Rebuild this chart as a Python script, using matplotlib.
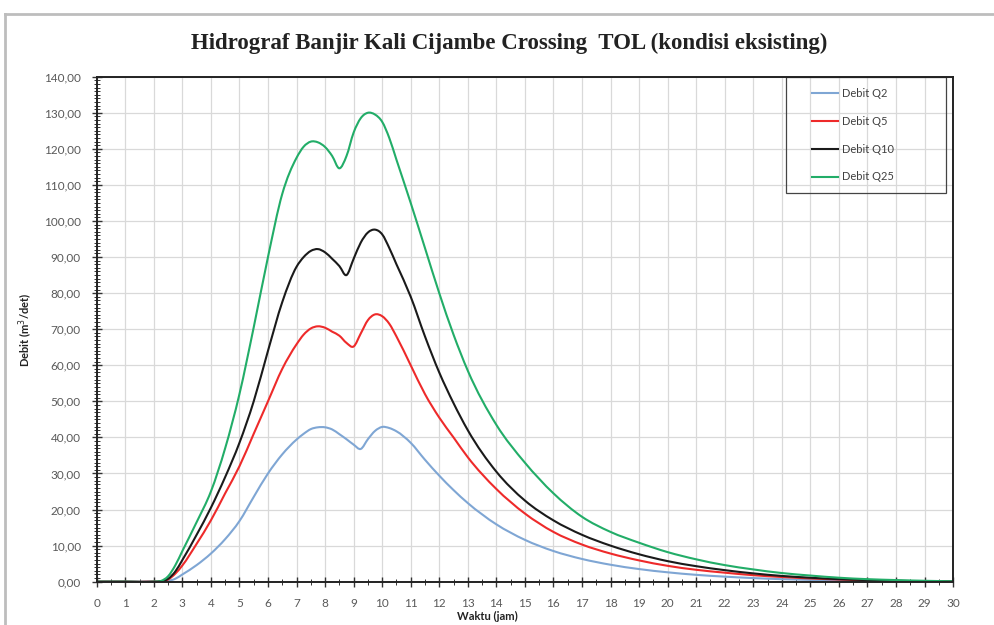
import matplotlib
matplotlib.use("Agg")
import matplotlib.pyplot as plt
import numpy as np
from matplotlib.ticker import MultipleLocator, FuncFormatter
from matplotlib.patches import Rectangle, PathPatch
from matplotlib.lines import Line2D
from matplotlib.path import Path

# waktu (jam)
waktu = [0, 1, 2, 2.25, 2.5, 2.75, 3, 3.5, 4, 4.5, 5, 5.5, 6, 6.5, 7,
         7.25, 7.5, 7.75, 8, 8.25, 8.5, 8.75, 9, 9.25, 9.5, 9.75, 10, 10.25, 10.5,
         11, 11.5, 12, 12.5, 13,
         14, 15, 16, 17, 18, 19, 20, 21, 22, 23, 24, 25, 26, 27, 28, 29, 30]

# debit (m3/det)
q2 = [0, 0, 0, 0, 0.2, 0.8, 2, 4.6, 7.8, 11.8, 16.8, 23.5, 30, 35.3, 39.4,
      41, 42.3, 42.8, 42.8, 42.2, 40.9, 39.5, 38, 36.8, 39.5, 41.8, 42.9, 42.6, 41.7,
      38.5, 33.8, 29.4, 25.4, 21.8,
      15.9, 11.6, 8.5, 6.3, 4.7, 3.5, 2.6, 1.9, 1.4, 1.0, 0.7, 0.5, 0.3, 0.2, 0.1, 0.05, 0]
q5 = [0, 0, 0, 0.1, 0.6, 2.2, 4.5, 10.5, 17, 24.5, 32, 41, 50, 59, 65.8,
      68.5, 70.2, 70.8, 70.4, 69.3, 68.2, 66.2, 65.2, 68.8, 72.5, 74.1, 73.6, 71.5, 68,
      60, 52, 45.5, 40, 34.5,
      25.7, 18.9, 13.8, 10.3, 7.8, 5.9, 4.4, 3.3, 2.5, 1.8, 1.3, 0.9, 0.6, 0.35, 0.2, 0.1, 0.05]
q10 = [0, 0, 0, 0.1, 0.8, 2.8, 6, 13, 20.5, 29, 38.5, 50, 64, 77.5, 87.3,
       90, 91.7, 92.2, 91.3, 89.5, 87.5, 85.0, 89.5, 94, 96.8, 97.6, 96.3, 92.5, 88,
       79, 68, 58, 49.5, 42,
       30.5, 22.5, 17, 13, 10, 7.6, 5.7, 4.3, 3.2, 2.3, 1.6, 1.1, 0.7, 0.45, 0.25, 0.12, 0.05]
q25 = [0, 0, 0, 0.2, 1.5, 4.5, 8.5, 16.5, 25, 37, 52, 70.5, 90, 107.5, 117.5,
       120.6, 122, 121.8, 120.5, 118, 114.6, 118, 124.5, 128.5, 130, 129.5, 127.5, 123, 117,
       105, 92.5, 80, 68.5, 58.5,
       43.5, 33, 24.5, 18, 13.8, 10.8, 8.2, 6.2, 4.6, 3.4, 2.4, 1.7, 1.1, 0.7, 0.45, 0.25, 0.1]

labels = ["Debit Q2", "Debit Q5", "Debit Q10", "Debit Q25"]
colors = ["#7FA6D4", "#EE2A2A", "#1A1A1A", "#22AD68"]


def garis_halus(x, y):
    # garis dihaluskan seperti "smoothed line" di Excel (Bezier lewat titik data)
    x = np.asarray(x, float)
    y = np.asarray(y, float)
    n = len(x)
    h = np.diff(x)
    d = np.diff(y) / h
    m = np.zeros(n)
    m[0] = d[0]
    m[-1] = d[-1]
    for i in range(1, n - 1):
        m[i] = (h[i - 1] * d[i] + h[i] * d[i - 1]) / (h[i - 1] + h[i])
    verts = [(x[0], y[0])]
    codes = [Path.MOVETO]
    for i in range(n - 1):
        dx = h[i] / 3.0
        verts += [(x[i] + dx, y[i] + m[i] * dx),
                  (x[i + 1] - dx, y[i + 1] - m[i + 1] * dx),
                  (x[i + 1], y[i + 1])]
        codes += [Path.CURVE4] * 3
    return Path(verts, codes)


fig = plt.figure(figsize=(9.94, 6.25), dpi=100)
ax = fig.add_axes([0.0973, 0.0693, 0.8615, 0.808])

handles = []
for q, lab, c in zip([q2, q5, q10, q25], labels, colors):
    ax.add_patch(PathPatch(garis_halus(waktu, q), fill=False, ec=c, lw=1.5,
                           joinstyle="round", capstyle="round"))
    handles.append(Line2D([], [], color=c, lw=1.5, label=lab))

ax.set_xlim(0, 30)
ax.set_ylim(0, 140)
ax.xaxis.set_major_locator(MultipleLocator(1))
ax.xaxis.set_minor_locator(MultipleLocator(0.5))
ax.yaxis.set_major_locator(MultipleLocator(10))
ax.yaxis.set_minor_locator(MultipleLocator(1))
ax.yaxis.set_major_formatter(FuncFormatter(lambda v, p: "{:.2f}".format(v).replace(".", ",")))

ax.grid(which="major", color="#D9D9D9", lw=0.9)
ax.set_axisbelow(True)
for s in ax.spines.values():
    s.set_color("#222222")
    s.set_linewidth(1.4)

ax.tick_params(which="major", direction="inout", length=7, width=1, color="#333333",
               labelsize=8.5, labelcolor="#595959")
ax.tick_params(which="minor", direction="inout", length=4, width=0.7, color="#333333")
ax.tick_params(axis="x", which="major", pad=8)
ax.tick_params(axis="y", which="major", pad=8)
for t in ax.get_xticklabels() + ax.get_yticklabels():
    t.set_fontfamily("Lato")

# legenda
ax.add_patch(Rectangle((0.805, 0.770), 0.1868, 0.230, transform=ax.transAxes,
                       fill=False, ec="#444444", lw=0.9, clip_on=False))
ax.legend(handles=handles, loc="upper left", bbox_to_anchor=(0.8225, 1.0), frameon=False,
          prop={"family": "Lato", "size": 8}, labelcolor="#404040",
          handlelength=2.3, handletextpad=0.4, labelspacing=1.52, borderpad=0.5)

fig.text(0.512, 0.931, "Hidrograf Banjir Kali Cijambe Crossing  TOL (kondisi eksisting)",
         ha="center", va="center", fontsize=16.5, fontweight="bold",
         family="Liberation Serif", color="#222222")
fig.text(0.026, 0.472, "Debit (m$^3$/det)", rotation=90, ha="center", va="center",
         fontsize=8, fontweight="bold", family="Lato", color="#222222")
fig.text(0.49, 0.013, "Waktu (jam)", ha="center", va="center",
         fontsize=8, fontweight="bold", family="Lato", color="#222222")

# bingkai luar
fig.add_artist(Line2D([0.005, 1.0], [0.978, 0.978], transform=fig.transFigure,
                      color="#BDBDBD", lw=2))
fig.add_artist(Line2D([0.005, 0.005], [0.0, 0.978], transform=fig.transFigure,
                      color="#BDBDBD", lw=2))

fig.savefig("out.png", dpi=100)
